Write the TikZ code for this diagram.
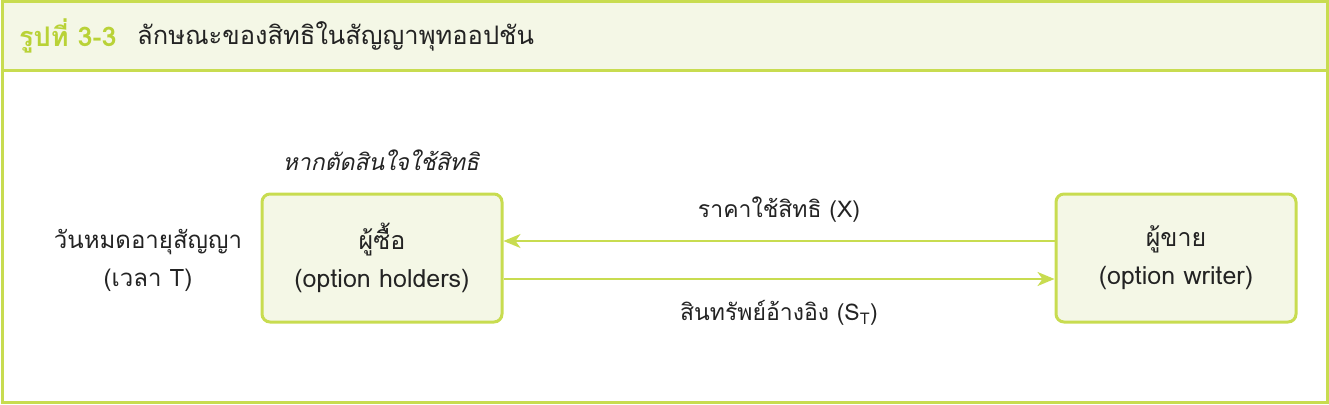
\documentclass[tikz,border=0pt]{standalone}
\usepackage{fontspec}
\setmainfont[Script=Thai]{Loma}
\usetikzlibrary{arrows.meta}
\definecolor{lgreen}{RGB}{200,220,80}
\definecolor{tgreen}{RGB}{185,210,55}
\definecolor{lfill}{RGB}{244,247,230}
\definecolor{tgray}{RGB}{35,35,35}
\tikzset{
  actor/.style={draw=lgreen, line width=3pt, fill=lfill, rounded corners=8pt,
    minimum width=240pt, minimum height=128pt, align=center, text=tgray,
    font=\fontsize{25}{38}\selectfont},
  lbl/.style={text=tgray, font=\fontsize{23}{30}\selectfont, align=center, inner sep=0pt},
  flow/.style={draw=lgreen, line width=2.2pt, -{Stealth[length=17pt,width=14pt,inset=5pt]}}
}
\begin{document}
\begin{tikzpicture}[x=1pt,y=-1pt]
\useasboundingbox (0,0) rectangle (1329,404);
% frame
\draw[lgreen, line width=3pt, fill=lfill] (2,2) rectangle (1327,70);
\draw[lgreen, line width=3pt] (2,70) rectangle (1327,402);
% title
\node[anchor=west, inner sep=0pt, font=\fontsize{27}{30}\selectfont\bfseries, text=tgreen] (tnum) at (19,36) {รูปที่ 3-3};
\node[anchor=west, inner sep=0pt, font=\fontsize{25.5}{30}\selectfont, text=tgray] (ttext) at (137,36) {ลักษณะของสิทธิในสัญญาพุทออปชัน};
% boxes
\node[actor] (buyer) at (382,258) {ผู้ซื้อ\\(option holders)};
\node[actor] (seller) at (1176,258) {ผู้ขาย\\(option writer)};
% arrows
\draw[flow] (seller.west |- 0,241) -- (buyer.east |- 0,241);
\draw[flow] (buyer.east |- 0,279) -- (seller.west |- 0,279);
% labels
\node[lbl] (strike) at (779,210) {ราคาใช้สิทธิ (X)};
\node[lbl] (under) at (779,313) {สินทรัพย์อ้างอิง (S\textsubscript{T})};
\node[lbl, font=\fontsize{23}{30}\selectfont\itshape] (ifex) at (381,160) {หากตัดสินใจใช้สิทธิ};
\node[lbl, font=\fontsize{24}{38}\selectfont] (expiry) at (148,260) {วันหมดอายุสัญญา\\(เวลา T)};
\end{tikzpicture}
\end{document}
